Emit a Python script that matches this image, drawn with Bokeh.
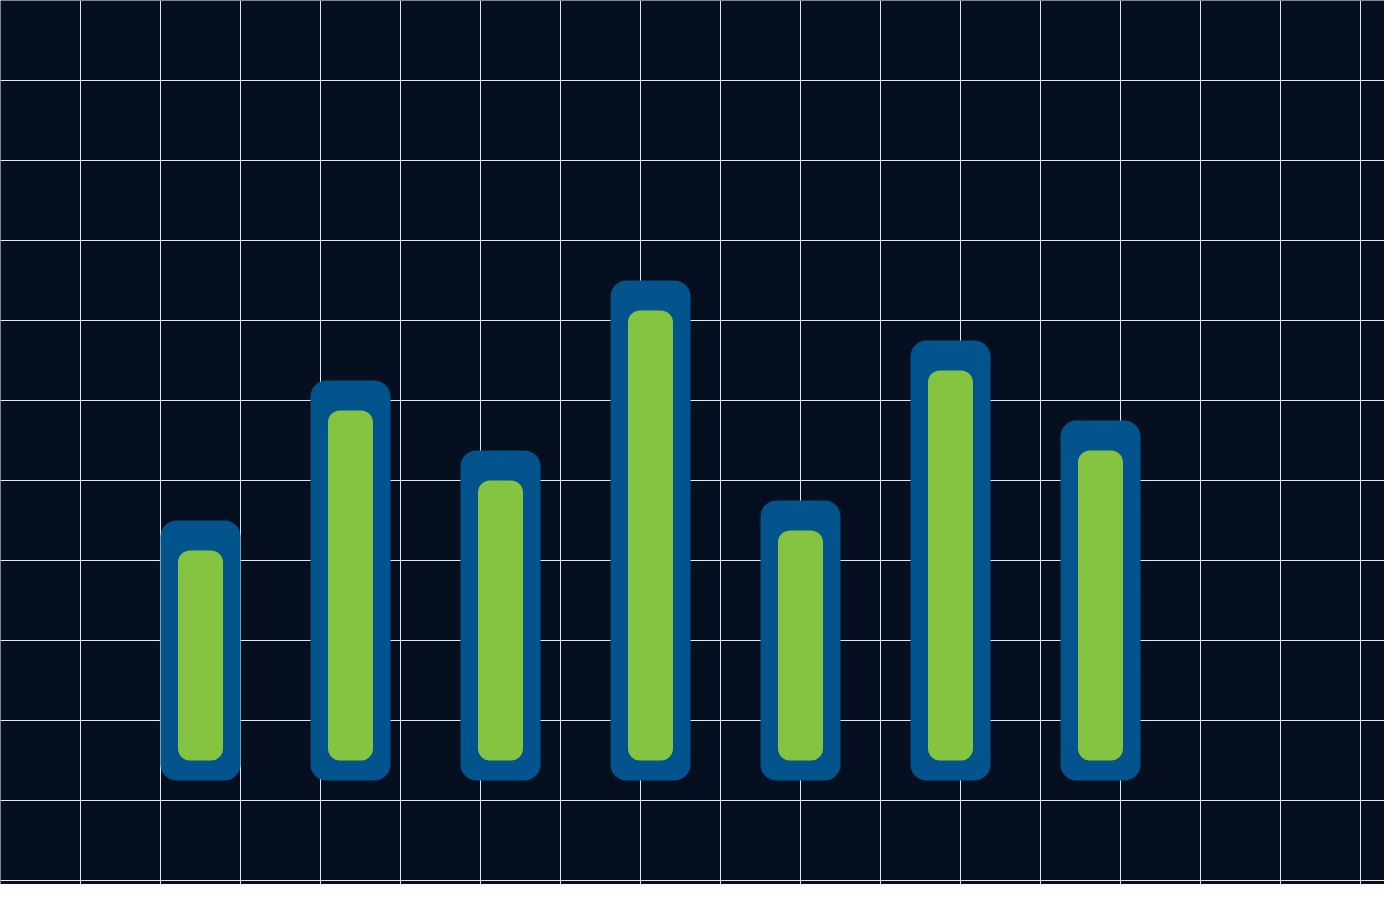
from bokeh.plotting import figure
from bokeh.models import Range1d, FixedTicker
from bokeh.embed import file_html
from bokeh.resources import INLINE

# Data: seven bars, no labels in the original
bar_index = [0, 1, 2, 3, 4, 5, 6]
bar_values = [26, 40, 33, 50, 28, 44, 36]

BG = "#050f1f"
BLUE = "#03548c"
GREEN = "#84c441"

# px per unit (bar spacing 150px, 10px per value unit), baseline at y=780
X_PX, Y_PX = 150.0, 10.0
X0_PX, BASE_PX = 200.0, 780.0
W, H = 1384, 884


def xd(px):
    return (px - X0_PX) / X_PX


def yd(px):
    return (BASE_PX - px) / Y_PX


p = figure(width=W, height=H, output_backend="svg", toolbar_location=None,
           x_axis_location=None, y_axis_location=None,
           x_range=Range1d(xd(0), xd(W)),
           y_range=Range1d(yd(H), yd(0)),
           min_border=0, background_fill_color=BG, border_fill_color=BG,
           outline_line_color=None)

# 80px grid
p.xgrid.ticker = FixedTicker(ticks=[xd(80 * k) for k in range(1, 19)])
p.ygrid.ticker = FixedTicker(ticks=[yd(80 * k) for k in range(1, 12)])
p.grid.grid_line_color = "white"
p.grid.grid_line_alpha = 0.9
p.grid.grid_line_width = 1

# outer blue bars
p.vbar(x=bar_index, top=bar_values, bottom=0, width=80 / X_PX,
       fill_color=BLUE, line_color=None, border_radius=16)

# inner green bars (inset 20px bottom, 30px top)
inner_top = [v - 30 / Y_PX for v in bar_values]
p.vbar(x=bar_index, top=inner_top, bottom=20 / Y_PX, width=45 / X_PX,
       fill_color=GREEN, line_color=None, border_radius=12)

open("out.html", "w").write(file_html(p, INLINE))
